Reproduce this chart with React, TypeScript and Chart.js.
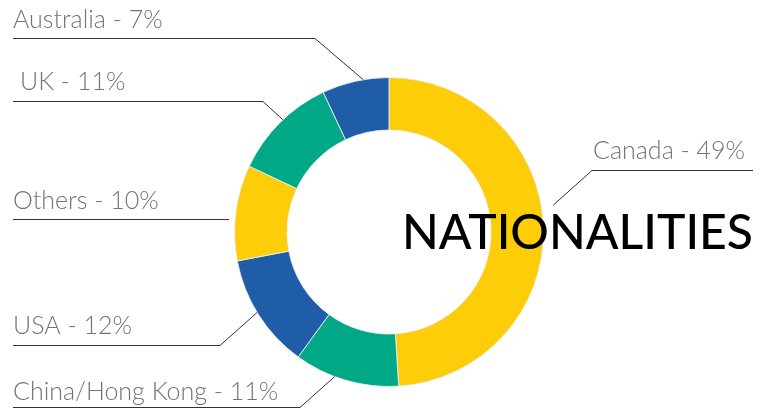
import React, { useEffect, useRef } from 'react';
import { Chart, registerables } from 'chart.js';

Chart.register(...registerables);

const categories = ['Canada', 'China/Hong Kong', 'USA', 'Others', 'UK', 'Australia'];
const shares = [49, 11, 12, 10, 11, 7];
const sliceColors = ['#FECD0A', '#00A886', '#1F5DA8', '#FECD0A', '#00A886', '#1F5DA8'];
const titleText = 'NATIONALITIES';

// label placement, same order as categories
const labelLayout = [
  { tx: 593, ty: 159, ly: 170.5, lx0: 753, lx1: 592, nudge: -7.5, dr: 12 },
  { tx: 13, ty: 400, ly: 407.5, lx0: 13, lx1: 300, nudge: 4.4, dr: 0 },
  { tx: 13, ty: 334, ly: 345.5, lx0: 13, lx1: 220, nudge: 1, dr: 0 },
  { tx: 13, ty: 209, ly: 219.5, lx0: 13, lx1: 229, nudge: null as number | null, dr: 0 },
  { tx: 20, ty: 90, ly: 101.5, lx0: 13, lx1: 263, nudge: 1.6, dr: 0 },
  { tx: 13, ty: 28, ly: 38.5, lx0: 13, lx1: 315, nudge: 3, dr: 0 },
];

const labelPlugin = {
  id: 'leaderLabels',
  afterDatasetsDraw(chart: any) {
    const ctx = chart.ctx;
    const meta = chart.getDatasetMeta(0);
    ctx.save();
    meta.data.forEach((arc: any, i: number) => {
      const L = labelLayout[i];
      const p = arc.getProps(['x', 'y', 'startAngle', 'endAngle', 'outerRadius'], true);
      ctx.strokeStyle = '#333';
      ctx.lineWidth = 1;
      ctx.beginPath();
      ctx.moveTo(L.lx0, L.ly);
      ctx.lineTo(L.lx1, L.ly);
      if (L.nudge !== null) {
        const mid = (p.startAngle + p.endAngle) / 2 + (L.nudge * Math.PI) / 180;
        const r = p.outerRadius + L.dr;
        ctx.lineTo(p.x + Math.cos(mid) * r, p.y + Math.sin(mid) * r);
      }
      ctx.stroke();
      ctx.fillStyle = '#737373';
      ctx.font = '300 25px Lato';
      ctx.textBaseline = 'alphabetic';
      ctx.textAlign = 'left';
      ctx.fillText(`${categories[i]} - ${shares[i]}%`, L.tx, L.ty);
    });
    // title
    ctx.font = '500 48px Lato';
    ctx.fillStyle = '#000';
    const w = ctx.measureText(titleText).width;
    const target = 351;
    ctx.translate(402, 249);
    ctx.scale(target / w, 1);
    ctx.fillText(titleText, 0, 0);
    ctx.restore();
  },
};

export default function App() {
  const ref = useRef<HTMLCanvasElement>(null);
  useEffect(() => {
    document.body.style.margin = '0';
    const chart = new Chart(ref.current as HTMLCanvasElement, {
      type: 'doughnut',
      data: {
        labels: categories,
        datasets: [
          {
            data: shares,
            backgroundColor: sliceColors,
            borderColor: 'rgba(235,240,245,0.9)',
            borderWidth: 1,
          },
        ],
      },
      options: {
        responsive: false,
        animation: false,
        cutout: '66%',
        layout: { padding: { left: 234, right: 216, top: 77, bottom: 22 } },
        plugins: { legend: { display: false }, tooltip: { enabled: false } },
      },
      plugins: [labelPlugin],
    });
    return () => chart.destroy();
  }, []);
  return (
    <div style={{ width: 760, height: 409, background: '#fff' }}>
      <canvas ref={ref} width={760} height={409} />
    </div>
  );
}
